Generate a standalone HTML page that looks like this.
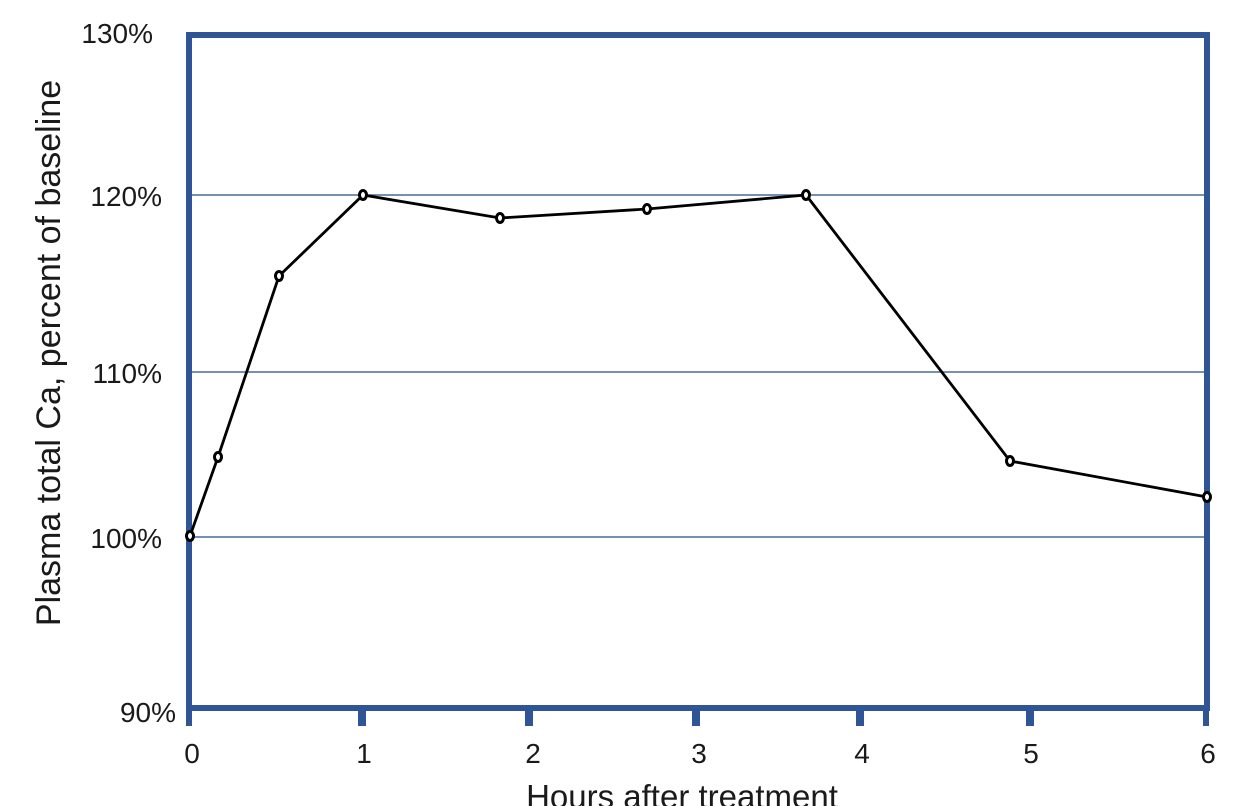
<!DOCTYPE html>
<html><head><meta charset="utf-8"><style>body{margin:0;background:#fff}svg{display:block}text{font-family:"Liberation Sans",sans-serif;fill:#1a1a1a}</style></head>
<body>
<svg width="1242" height="806" viewBox="0 0 1242 806">
<g stroke="#4a6a96" stroke-width="1.5">
<line x1="189" y1="195" x2="1208" y2="195"/>
<line x1="189" y1="372" x2="1208" y2="372"/>
<line x1="189" y1="537" x2="1208" y2="537"/>
</g>
<g stroke="#2f5597" stroke-width="6" fill="none">
<rect x="189" y="35" width="1018" height="673"/>
<line x1="189" y1="708" x2="189" y2="726"/>
<line x1="362" y1="708" x2="362" y2="726" stroke-width="8"/>
<line x1="529" y1="708" x2="529" y2="726" stroke-width="8"/>
<line x1="696" y1="708" x2="696" y2="726" stroke-width="8"/>
<line x1="860" y1="708" x2="860" y2="726" stroke-width="8"/>
<line x1="1030" y1="708" x2="1030" y2="726" stroke-width="8"/>
<line x1="1206" y1="708" x2="1206" y2="726"/>
</g>
<polyline fill="none" stroke="#000" stroke-width="2.8" points="190,536 218,457 279,276 363,195 500,218 647,209 806,195 1010,461 1207,497"/>
<g fill="#fff" stroke="#000" stroke-width="3">
<ellipse cx="190" cy="536" rx="3.5" ry="4.5"/><ellipse cx="218" cy="457" rx="3.5" ry="4.5"/><ellipse cx="279" cy="276" rx="3.5" ry="4.5"/><ellipse cx="363" cy="195" rx="3.5" ry="4.5"/><ellipse cx="500" cy="218" rx="3.5" ry="4.5"/><ellipse cx="647" cy="209" rx="3.5" ry="4.5"/><ellipse cx="806" cy="195" rx="3.5" ry="4.5"/><ellipse cx="1010" cy="461" rx="3.5" ry="4.5"/><ellipse cx="1207" cy="497" rx="3.5" ry="4.5"/>
</g>
<g font-size="28" text-anchor="end">
<text x="153" y="43">130%</text>
<text x="162" y="206">120%</text>
<text x="162" y="383">110%</text>
<text x="162" y="548">100%</text>
<text x="176" y="722">90%</text>
</g>
<g font-size="28" text-anchor="middle">
<text x="192" y="763">0</text><text x="364" y="763">1</text><text x="533" y="763">2</text><text x="699" y="763">3</text><text x="862" y="763">4</text><text x="1031" y="763">5</text><text x="1208" y="763">6</text>
</g>
<text x="682" y="808" font-size="33" text-anchor="middle">Hours after treatment</text>
<text transform="translate(60,353) rotate(-90)" font-size="34" text-anchor="middle">Plasma total Ca, percent of baseline</text>
</svg>
</body></html>
